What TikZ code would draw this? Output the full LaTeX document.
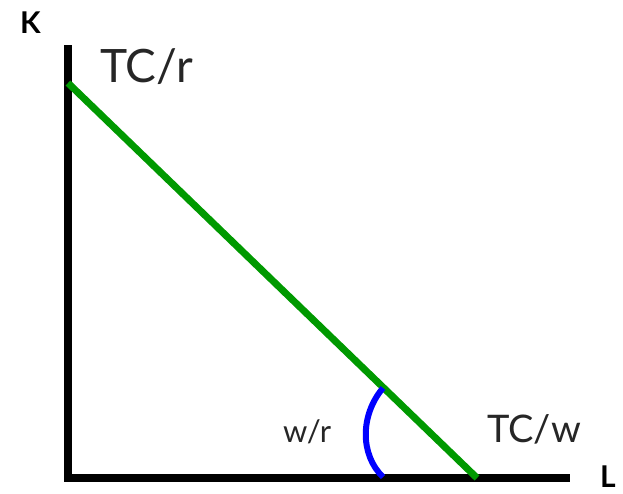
\documentclass[tikz,border=0pt]{standalone}
\usepackage{fontspec}
\setmainfont{Lato}
\usetikzlibrary{positioning}
\tikzset{
  axislabel/.style={font=\bfseries\fontsize{30}{32}\selectfont, inner sep=0pt},
  bigtext/.style={font=\fontsize{46}{48}\selectfont, inner sep=0pt, text=black!85},
}
\begin{document}
\begin{tikzpicture}[x=1pt, y=-1pt]
  \useasboundingbox (0,0) rectangle (623,493);
  \coordinate (ktop) at (68,45);
  \coordinate (origin) at (68,478);
  \coordinate (lend) at (570,478);
  \coordinate (kint) at (68,83);
  \coordinate (lint) at (477,478);
  \coordinate (arctop) at (383,388);
  \coordinate (arcbot) at (383,477);

  \draw[line width=8pt, line join=miter] (ktop) -- (origin) -- (lend);
  \draw[line width=7pt, green!60!black] (kint) -- (lint);
  \draw[line width=6pt, blue] (arctop) .. controls (360,415) and (360,455) .. (arcbot);

  \node (K) [axislabel, anchor=base west] at (20,33) {K};
  \node (L) [axislabel, anchor=base west] at (600,487) {L};
  \node (tcr) [bigtext, anchor=base west] at (100,82) {TC/r};
  \node (tcw) [bigtext, anchor=base west, font=\fontsize{38}{40}\selectfont] at (487,442) {TC/w};
  \node (wr) [bigtext, anchor=base west, font=\fontsize{31}{33}\selectfont] at (283,442) {w/r};
\end{tikzpicture}
\end{document}
